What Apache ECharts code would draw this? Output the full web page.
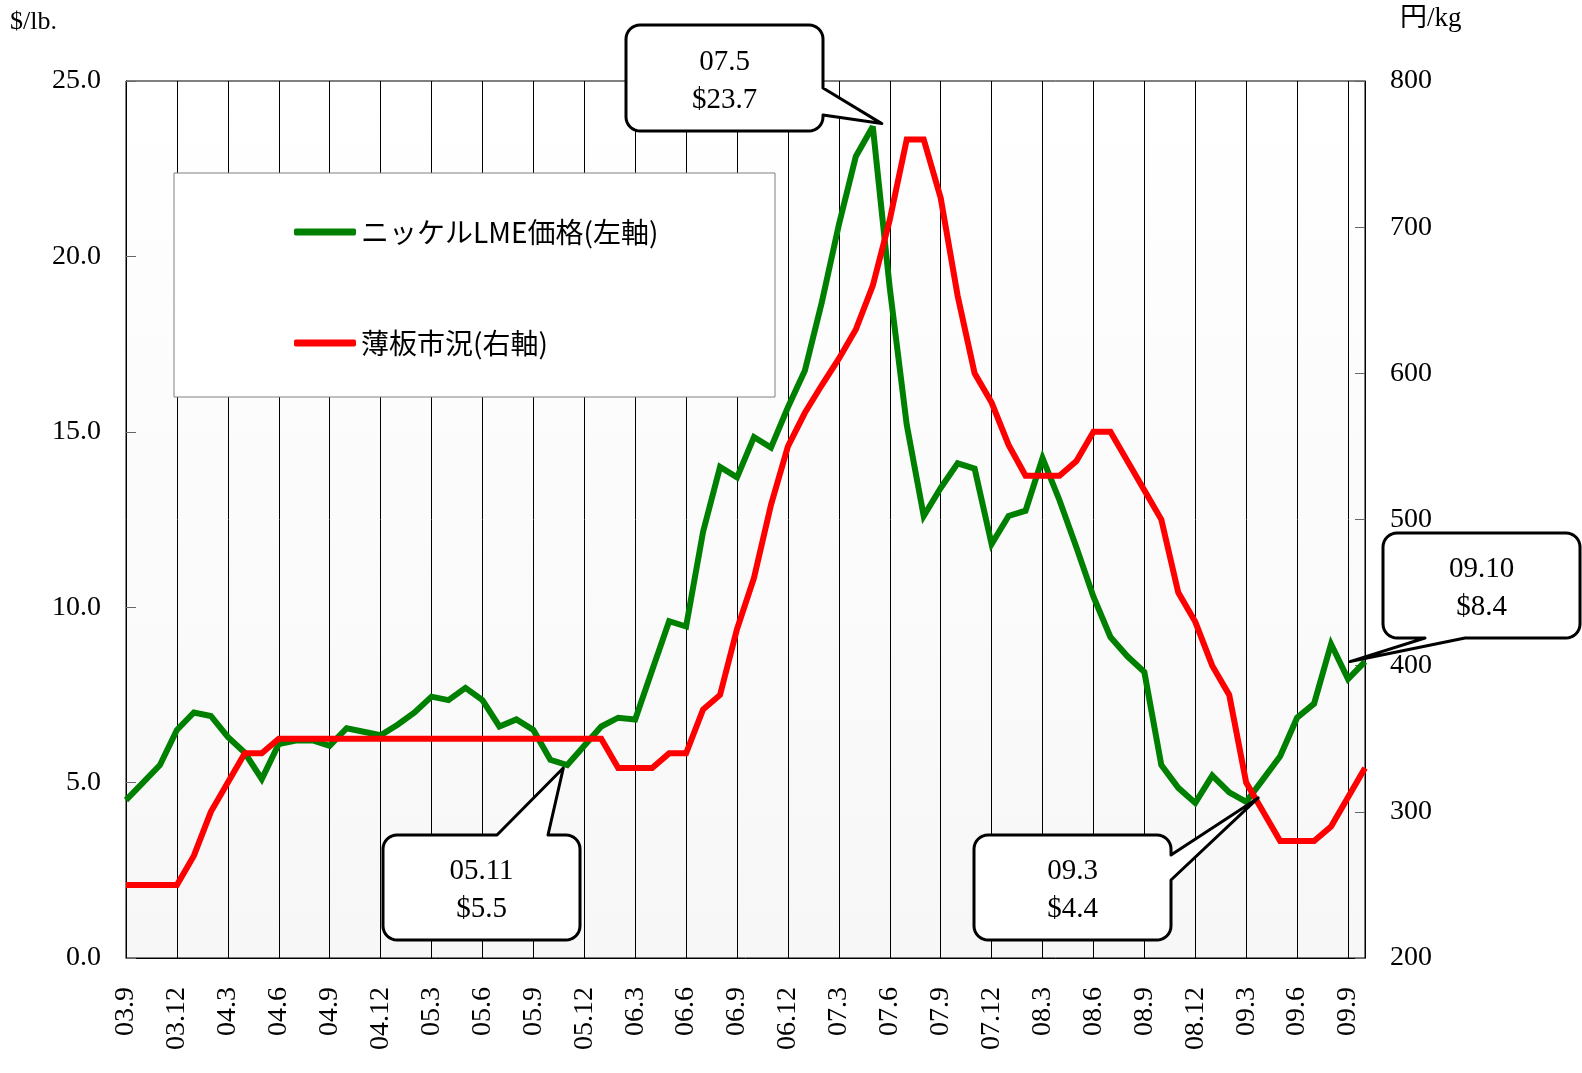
<!DOCTYPE html>
<html><head><meta charset="utf-8">
<script src="https://cdn.jsdelivr.net/npm/echarts@6/dist/echarts.min.js"></script>
<style>html,body{margin:0;padding:0;background:#fff}#c{width:1582px;height:1073px}</style>
</head><body><div id="c"></div>
<script>
// ---- data ----
const months = [
 '03.9','03.10','03.11','03.12',
 '04.1','04.2','04.3','04.4','04.5','04.6','04.7','04.8','04.9','04.10','04.11','04.12',
 '05.1','05.2','05.3','05.4','05.5','05.6','05.7','05.8','05.9','05.10','05.11','05.12',
 '06.1','06.2','06.3','06.4','06.5','06.6','06.7','06.8','06.9','06.10','06.11','06.12',
 '07.1','07.2','07.3','07.4','07.5','07.6','07.7','07.8','07.9','07.10','07.11','07.12',
 '08.1','08.2','08.3','08.4','08.5','08.6','08.7','08.8','08.9','08.10','08.11','08.12',
 '09.1','09.2','09.3','09.4','09.5','09.6','09.7','09.8','09.9','09.10'
];
const nickelLME = [
 4.5,5.0,5.5,6.5,
 7.0,6.9,6.3,5.85,5.1,6.1,6.2,6.2,6.05,6.55,6.45,6.35,
 6.65,7.0,7.45,7.35,7.7,7.35,6.6,6.8,6.5,5.65,5.5,6.05,
 6.6,6.85,6.8,8.2,9.6,9.45,12.15,14.0,13.7,14.85,14.55,15.7,
 16.75,18.7,20.9,22.85,23.7,19.1,15.2,12.6,13.4,14.1,13.95,11.8,
 12.6,12.75,14.25,13.05,11.7,10.3,9.15,8.6,8.15,5.5,4.85,4.42,
 5.2,4.72,4.45,5.1,5.75,6.85,7.25,8.95,7.95,8.45
];
const sheetPrice = [
 250,250,250,250,
 270,300,320,340,340,350,350,350,350,350,350,350,
 350,350,350,350,350,350,350,350,350,350,350,350,
 350,330,330,330,340,340,370,380,425,460,510,550,
 573,592,610,630,660,705,760,760,720,653,600,580,
 551,530,530,530,540,560,560,540,520,500,450,430,
 400,380,320,300,280,280,280,290,310,330
];
const seriesNames = ['ニッケルLME価格(左軸)', '薄板市況(右軸)'];
const leftAxisName = '$/lb.';
const rightAxisName = '円/kg';
const calloutIndex = [44, 26, 66, 73];
const calloutLabels = [['07.5','$23.7'], ['05.11','$5.5'], ['09.3','$4.4'], ['09.10','$8.4']];

// ---- layout / style ----
const SERIF = '"Liberation Serif","Noto Sans CJK JP",serif';
const JP = '"Noto Sans CJK JP",sans-serif';
const calloutLayout = [
 {box:{x:626,y:25,w:197,h:106,r:14}, side:'right', b1:88, b2:115, off:[9,-3]},
 {box:{x:383,y:835,w:197,h:105,r:14}, side:'top', b1:497, b2:548, off:[-4,3]},
 {box:{x:974,y:835,w:197,h:105,r:14}, side:'right', b1:855, b2:880, off:[12,-4]},
 {box:{x:1383,y:533,w:197,h:105,r:14}, side:'bottom', b1:1425, b2:1465, off:[-15,0]}
];

const chart = echarts.init(document.getElementById('c'), null, {renderer:'canvas', width:1582, height:1073});
const axisLabelStyle = {fontFamily: SERIF, fontSize: 28, color: '#000'};
chart.setOption({
  backgroundColor: '#fff',
  animation: false,
  grid: {
    left: 126, right: 217, top: 81, bottom: 115,
    show: true, borderColor: '#000', borderWidth: 1,
    backgroundColor: new echarts.graphic.LinearGradient(0, 0, 0, 1, [
      {offset: 0, color: '#ffffff'}, {offset: 1, color: '#f7f7f7'}]),
    outerBoundsMode: 'none'
  },
  legend: {
    orient: 'vertical', left: 289, top: 212,
    itemWidth: 62, itemHeight: 7, itemGap: 81, icon: 'roundRect',
    textStyle: {fontFamily: JP, fontSize: 28, color: '#000', lineHeight: 30},
    data: seriesNames, z: 10
  },
  xAxis: {
    type: 'category', data: months, boundaryGap: false,
    axisLine: {show: true, lineStyle: {color: '#000', width: 1}},
    axisTick: {show: false},
    axisLabel: Object.assign({interval: 2, rotate: 90, margin: 29}, axisLabelStyle),
    splitLine: {show: true, interval: 2, lineStyle: {color: '#000', width: 1}}
  },
  yAxis: [
    {
      type: 'value', min: 0, max: 25, interval: 5, position: 'left',
      axisLine: {show: true, lineStyle: {color: '#000'}},
      axisTick: {show: true, inside: true, length: 10, lineStyle: {color: '#666'}},
      axisLabel: Object.assign({margin: 25, formatter: v => v.toFixed(1)}, axisLabelStyle),
      splitLine: {show: false}
    },
    {
      type: 'value', min: 200, max: 800, interval: 100, position: 'right',
      axisLine: {show: true, lineStyle: {color: '#000'}},
      axisTick: {show: true, inside: true, length: 10, lineStyle: {color: '#666'}},
      axisLabel: Object.assign({margin: 25}, axisLabelStyle),
      splitLine: {show: false}
    }
  ],
  series: [
    {name: seriesNames[0], type: 'line', data: nickelLME, yAxisIndex: 0, symbol: 'none',
     lineStyle: {color: '#008000', width: 6, join: 'miter', miterLimit: 3}, itemStyle: {color: '#008000'}, z: 2},
    {name: seriesNames[1], type: 'line', data: sheetPrice, yAxisIndex: 1, symbol: 'none',
     lineStyle: {color: '#ff0000', width: 6, join: 'miter', miterLimit: 3}, itemStyle: {color: '#ff0000'}, z: 3}
  ]
});

// rounded box with a pointer tail, returned as polygon points
function calloutPoints(b, side, b1, b2, tip) {
  const x = b.x, y = b.y, w = b.w, h = b.h, r = b.r, R = x + w, B = y + h;
  const pts = [];
  const arc = (cx, cy, a0, a1) => {
    const n = 8;
    for (let i = 0; i <= n; i++) {
      const a = a0 + (a1 - a0) * i / n;
      pts.push([cx + r * Math.cos(a), cy + r * Math.sin(a)]);
    }
  };
  arc(x + r, y + r, Math.PI, Math.PI * 1.5);
  if (side === 'top') pts.push([b1, y], tip, [b2, y]);
  arc(R - r, y + r, Math.PI * 1.5, Math.PI * 2);
  if (side === 'right') pts.push([R, b1], tip, [R, b2]);
  arc(R - r, B - r, 0, Math.PI * 0.5);
  if (side === 'bottom') pts.push([b2, B], tip, [b1, B]);
  arc(x + r, B - r, Math.PI * 0.5, Math.PI);
  return pts;
}

const gfx = [
  {type: 'rect', shape: {x: 174, y: 173, width: 601, height: 224},
   style: {fill: '#fff', stroke: '#808080', lineWidth: 1}, z: 5},
  {type: 'text', x: 10, y: 9, style: {text: leftAxisName, fontFamily: SERIF, fontSize: 26, fill: '#000', align: 'left', verticalAlign: 'top'}, z: 5},
  {type: 'text', x: 1400, y: 5, style: {text: rightAxisName, fontFamily: SERIF, fontSize: 27, fill: '#000', align: 'left', verticalAlign: 'top'}, z: 5}
];
calloutIndex.forEach((idx, k) => {
  const L = calloutLayout[k];
  const p = chart.convertToPixel({seriesIndex: 0}, [idx, nickelLME[idx]]);
  const tip = [p[0] + L.off[0], p[1] + L.off[1]];
  gfx.push({type: 'polygon', shape: {points: calloutPoints(L.box, L.side, L.b1, L.b2, tip)},
    style: {fill: '#fff', stroke: '#000', lineWidth: 3, lineJoin: 'round'}, z: 20});
  gfx.push({type: 'text', x: L.box.x + L.box.w / 2, y: L.box.y + L.box.h / 2 + 3,
    style: {text: calloutLabels[k].join('\n'), fontFamily: SERIF, fontSize: 29, lineHeight: 38,
      fill: '#000', align: 'center', verticalAlign: 'middle'}, z: 21});
});
chart.setOption({graphic: gfx});
</script>
</body></html>
